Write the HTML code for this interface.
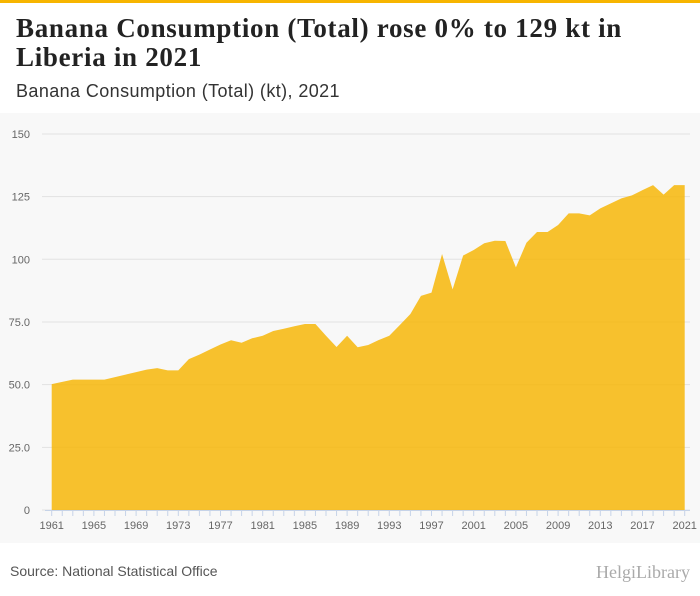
<!DOCTYPE html>
<html><head><meta charset="utf-8"><style>
body{margin:0;width:700px;height:596px;background:#fff;font-family:"Liberation Sans",sans-serif;overflow:hidden;position:relative}
.bar{position:absolute;top:0;left:0;width:700px;height:3px;background:#f7b500}
h1{position:absolute;left:16px;top:14px;margin:0;font-family:"Liberation Serif",serif;font-size:27px;line-height:29px;color:#222;font-weight:bold;width:625px;letter-spacing:0.7px}
.sub{position:absolute;left:16px;top:81px;font-size:18px;color:#333;letter-spacing:0.4px}
.src{position:absolute;left:10px;top:563px;font-size:14px;color:#555}
.logo{position:absolute;right:10px;top:562px;font-size:18px;color:#aaa;font-family:"Liberation Serif",serif}
svg{position:absolute;left:0;top:113px}
</style></head><body>
<div class="bar"></div>
<h1>Banana Consumption (Total) rose 0% to 129 kt in Liberia in 2021</h1>
<div class="sub">Banana Consumption (Total) (kt), 2021</div>
<svg id="chart" width="700" height="430"></svg>
<div class="src">Source: National Statistical Office</div>
<div class="logo">HelgiLibrary</div>
<script>
const years=[1961,1962,1963,1964,1965,1966,1967,1968,1969,1970,1971,1972,1973,1974,1975,1976,1977,1978,1979,1980,1981,1982,1983,1984,1985,1986,1987,1988,1989,1990,1991,1992,1993,1994,1995,1996,1997,1998,1999,2000,2001,2002,2003,2004,2005,2006,2007,2008,2009,2010,2011,2012,2013,2014,2015,2016,2017,2018,2019,2020,2021];
const values=[50.2,51.1,52,52,52,52,53,54,55,56,56.6,55.7,55.7,60.2,62,64,66,67.7,66.7,68.5,69.5,71.4,72.3,73.3,74.2,74.2,69.5,65,69.5,64.9,65.8,67.8,69.5,73.8,78.2,85.4,86.7,102.1,88,101.5,103.7,106.4,107.4,107.3,96.8,106.6,110.9,110.9,113.7,118.3,118.3,117.5,120.3,122.3,124.3,125.5,127.6,129.6,125.8,129.6,129.6];
const yTicks=[0,25,50,75,100,125,150];
const yLabels=["0","25.0","50.0","75.0","100","125","150"];
const xLabels=[1961,1965,1969,1973,1977,1981,1985,1989,1993,1997,2001,2005,2009,2013,2017,2021];
const NS="http://www.w3.org/2000/svg",svg=document.getElementById('chart');
const x=y=>51.7+(y-1961)*10.55, yv=v=>397-v*2.507;
function mk(t,a){const e=document.createElementNS(NS,t);for(const k in a)e.setAttribute(k,a[k]);svg.appendChild(e);return e;}
const bg=mk('rect',{x:0,y:0,width:700,height:430,fill:'#f8f8f8'});


yTicks.forEach((t,i)=>{
 const g=mk('line',{x1:42,x2:690,y1:yv(t),y2:yv(t),stroke:'#e2e2e2'});
 
 
 const l=mk('text',{x:30,y:yv(t)+4,'text-anchor':'end','font-size':11,fill:'#666'});l.textContent=yLabels[i];
 
 
});
let d='M'+x(years[0])+','+yv(0);
years.forEach((y,i)=>d+='L'+x(y)+','+yv(values[i]));
d+='L'+x(years[years.length-1])+','+yv(0)+'Z';
const a=mk('path',{d:d,fill:'#f7b500','fill-opacity':0.82});


const ax=mk('line',{x1:45,x2:690,y1:yv(0)+0.5,y2:yv(0)+0.5,stroke:'#c6d3e8'});


years.forEach(y=>{const t=mk('line',{x1:x(y),x2:x(y),y1:yv(0),y2:yv(0)+6,stroke:'#c6d3e8'});
 
 });
xLabels.forEach(y=>{const l=mk('text',{x:x(y),y:yv(0)+19,'text-anchor':'middle','font-size':11,fill:'#666'});l.textContent=y;
 
 });
</script>
</body></html>
